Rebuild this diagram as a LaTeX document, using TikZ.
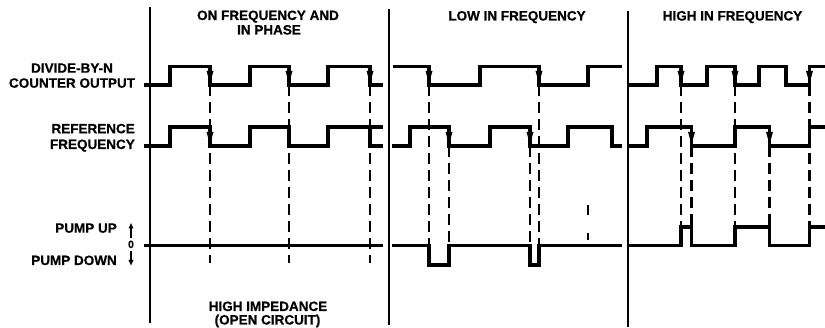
\documentclass[tikz,border=0pt]{standalone}
\usepackage{fontspec}
\setmainfont{Liberation Sans}[BoldFeatures={FakeBold=0.6}]
\usetikzlibrary{arrows.meta}
\newcommand\dnarrow[2]{\fill (#1-3.5,#2-12) -- (#1+3.5,#2-12) -- (#1,#2) -- cycle;}
\begin{document}
\begin{tikzpicture}[x=1pt,y=-1pt,
  wave/.style={line width=3.2pt, line join=miter},
  sepline/.style={line width=2.5pt},
  dsh/.style={line width=2.2pt, dash pattern=on 11pt off 6pt},
  lbl/.style={font=\fontsize{13.5}{15}\selectfont\bfseries, inner sep=0pt},
  small/.style={font=\fontsize{10.5}{12}\selectfont\bfseries, inner sep=0pt},
  parrow/.style={line width=1.8pt, -{Latex[length=6pt,width=5.5pt]}}]
\useasboundingbox (0,0) rectangle (825,328);

% separators
\draw[sepline] (150,7) -- (150,323);
\draw[sepline] (389,9) -- (389,325);
\draw[sepline] (628,11) -- (628,327);

% dashed timing lines
\foreach \x in {210,289,370} \draw[dsh] (\x,85) -- (\x,263);
\draw[dsh] (429,85) -- (429,265);
\draw[dsh] (449,146) -- (449,265);
\draw[dsh] (530,146) -- (530,265);
\draw[dsh] (539,85) -- (539,265);
\draw[line width=2.2pt] (588,205) -- (588,215);
\draw[line width=2.2pt] (588,233) -- (588,240);
\draw[dsh] (681,85) -- (681,227);
\draw[dsh] (691.5,146) -- (691.5,227);
\draw[dsh] (735,85) -- (735,227);
\draw[dsh] (769.5,146) -- (769.5,227);
\draw[dsh] (809.5,85) -- (809.5,227);

% section 1
\draw[wave] (144,85) -- (170,85) -- (170,66.5) -- (210,66.5) -- (210,85) -- (250,85) -- (250,66.5) -- (289,66.5) -- (289,85) -- (328,85) -- (328,66.5) -- (370,66.5) -- (370,85) -- (383,85);
\draw[wave] (144,146) -- (170,146) -- (170,127) -- (210,127) -- (210,146) -- (250,146) -- (250,127) -- (289,127) -- (289,146) -- (328,146) -- (328,127) -- (383,127);
\draw[wave] (370,127) -- (370,146) -- (383,146);
\draw[wave] (144,245.5) -- (383,245.5);

% section 2
\draw[wave] (393,66.5) -- (429,66.5) -- (429,85) -- (480,85) -- (480,66.5) -- (539,66.5) -- (539,85) -- (588,85) -- (588,66.5) -- (622,66.5);
\draw[wave] (392,146) -- (410,146) -- (410,127) -- (449,127) -- (449,146) -- (490,146) -- (490,127) -- (530,127) -- (530,146) -- (568,146) -- (568,127) -- (612,127) -- (612,146) -- (622,146);
\draw[wave] (392,245.5) -- (429,245.5) -- (429,265) -- (449,265) -- (449,245.5) -- (530,245.5) -- (530,265) -- (539,265) -- (539,245.5) -- (622,245.5);

% section 3
\draw[wave] (628,85) -- (657,85) -- (657,66.5) -- (681,66.5) -- (681,85) -- (707,85) -- (707,66.5) -- (735,66.5) -- (735,85) -- (759,85) -- (759,66.5) -- (786,66.5) -- (786,85) -- (809.5,85) -- (809.5,66.5) -- (825,66.5);
\draw[wave] (628,146) -- (647,146) -- (647,127) -- (691.5,127) -- (691.5,146) -- (735,146) -- (735,127) -- (769.5,127) -- (769.5,146) -- (809.5,146) -- (809.5,127) -- (825,127);
\draw[wave] (628,245.5) -- (681,245.5) -- (681,227) -- (691.5,227) -- (691.5,245.5) -- (735,245.5) -- (735,227) -- (769.5,227) -- (769.5,245.5) -- (809.5,245.5) -- (809.5,227) -- (825,227);

% arrowheads on edges
\foreach \x in {210,289,370,429,539,681,735,809.5} {\dnarrow{\x}{83}}
\foreach \x in {210,449,530,691.5,769.5} {\dnarrow{\x}{144}}

% labels
\node[lbl, anchor=base] (hA1) at (268,20) {ON FREQUENCY AND};
\node[lbl, anchor=base] (hA2) at (269,34.5) {IN PHASE};
\node[lbl, anchor=base] (hB) at (517,20.5) {LOW IN FREQUENCY};
\node[lbl, anchor=base] (hC) at (732.5,20.5) {HIGH IN FREQUENCY};
\node[lbl, anchor=base] (dv1) at (72,72.7) {DIVIDE-BY-N};
\node[lbl, anchor=base] (dv2) at (72,87.7) {COUNTER OUTPUT};
\node[lbl, anchor=base east] (rf1) at (135,133.3) {REFERENCE};
\node[lbl, anchor=base east] (rf2) at (135,149) {FREQUENCY};
\node[lbl, anchor=base east] (pu) at (117,232.7) {PUMP UP};
\node[lbl, anchor=base east] (pd) at (117,265) {PUMP DOWN};
\node[small, anchor=base] (zero) at (131,248) {0};
\node[lbl, anchor=base] (hi1) at (268,311) {HIGH IMPEDANCE};
\node[lbl, anchor=base] (hi2) at (267.5,324.5) {(OPEN CIRCUIT)};

\coordinate (upA) at (131,238);
\coordinate (upB) at (131,222.5);
\coordinate (dnA) at (131,251.5);
\coordinate (dnB) at (131,266);
\draw[parrow] (upA) -- (upB);
\draw[parrow] (dnA) -- (dnB);
\end{tikzpicture}
\end{document}
